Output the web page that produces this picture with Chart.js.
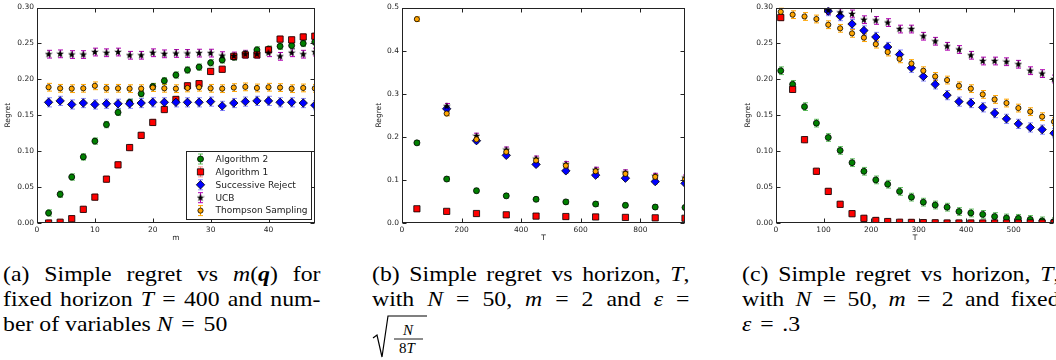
<!DOCTYPE html>
<html lang="en">
<head>
<meta charset="UTF-8">
<title>Simple regret</title>
<script src="https://cdn.jsdelivr.net/npm/chart.js"></script>
<style>
  html, body { margin: 0; padding: 0; background: #fff; width: 1056px; height: 360px; overflow: hidden; position: relative; }
  .plot { position: absolute; top: 0; }
  .cap { position: absolute; top: 261px; width: 294px; font-family: 'Liberation Serif', 'DejaVu Serif', serif; font-size: 22px; line-height: 25px; color: #000; transform: scaleX(1.08); transform-origin: 0 0; }
  .cap div { white-space: nowrap; }
  .cap .j { white-space: normal; text-align: justify; text-align-last: justify; }
  .eq { margin: 0 0.12em; }
  .frac { position: absolute; font-family: 'Liberation Serif', 'DejaVu Serif', serif; font-size: 15px; font-style: italic; line-height: 15px; }
</style>
</head>
<body>
<canvas id="chartA" class="plot" width="320" height="250" style="left:0px"></canvas>
<canvas id="chartB" class="plot" width="320" height="250" style="left:371px"></canvas>
<canvas id="chartC" class="plot" width="320" height="250" style="left:740px"></canvas>

<div class="cap" style="left:3px">
  <div class="j">(a) Simple regret vs <i>m</i>(<b><i>q</i></b>) for</div>
  <div class="j">fixed horizon <i>T</i> = 400 and num-</div>
  <div>ber of variables <i>N</i> <span class="eq">=</span> 50</div>
</div>
<div class="cap" style="left:372px">
  <div class="j">(b) Simple regret vs horizon, <i>T</i>,</div>
  <div class="j">with <i>N</i> = 50, <i>m</i> = 2 and <i>ε</i> =</div>
</div>
<svg style="position:absolute;left:370px;top:312px" width="62" height="48">
  <polyline points="3,26 7,23 12,45 18,4 57,4" fill="none" stroke="#000" stroke-width="1.2"/>
  <line x1="24" y1="27" x2="53" y2="27" stroke="#000" stroke-width="0.9"/>
</svg>
<div class="frac" style="left:403px;top:323px">N</div>
<div class="frac" style="left:399px;top:341px"><span style="font-style:normal">8</span>T</div>
<div class="cap" style="left:742px">
  <div class="j">(c) Simple regret vs horizon, <i>T</i>,</div>
  <div class="j">with <i>N</i> = 50, <i>m</i> = 2 and fixed</div>
  <div><i>ε</i> <span class="eq">=</span> .3</div>
</div>

<script>
// (a) regret vs m, T = 400, N = 50
const mA = [2, 4, 6, 8, 10, 12, 14, 16, 18, 20, 22, 24, 26, 28, 30, 32, 34, 36, 38, 40, 42, 44, 46, 48];
const alg2A = [0.014, 0.040, 0.064, 0.092, 0.114, 0.137, 0.154, 0.168, 0.180, 0.190, 0.198, 0.206, 0.213, 0.217, 0.223, 0.227, 0.231, 0.235, 0.241, 0.242, 0.246, 0.247, 0.250, 0.252];
const alg1A = [0.000, 0.001, 0.006, 0.019, 0.036, 0.061, 0.081, 0.105, 0.122, 0.140, 0.158, 0.172, 0.191, 0.194, 0.211, 0.214, 0.232, 0.234, 0.234, 0.241, 0.256, 0.255, 0.259, 0.260];
const srA = [0.168, 0.170, 0.165, 0.167, 0.165, 0.166, 0.166, 0.166, 0.167, 0.168, 0.168, 0.168, 0.168, 0.168, 0.169, 0.163, 0.167, 0.169, 0.170, 0.170, 0.168, 0.168, 0.167, 0.164];
const ucbA = [0.235, 0.2355, 0.2345, 0.2345, 0.238, 0.237, 0.238, 0.2335, 0.2335, 0.237, 0.2355, 0.236, 0.236, 0.2365, 0.2365, 0.233, 0.2325, 0.235, 0.235, 0.237, 0.232, 0.237, 0.235, 0.238];
const tsA = [0.189, 0.1875, 0.187, 0.1875, 0.191, 0.1875, 0.1875, 0.187, 0.187, 0.1885, 0.1875, 0.187, 0.188, 0.189, 0.1875, 0.187, 0.1885, 0.1895, 0.188, 0.189, 0.1885, 0.187, 0.188, 0.1875];
const errA = [0.003, 0.003, 0.005, 0.004, 0.004];
const xTicksA = [0, 10, 20, 30, 40];
const yTicksA = [0, 0.05, 0.10, 0.15, 0.20, 0.25, 0.30];

// (b) regret vs T, eps = sqrt(N/8T)
const tB = [50, 150, 250, 350, 450, 550, 650, 750, 850, 950];
const alg2B = [0.186, 0.102, 0.075, 0.063, 0.055, 0.049, 0.044, 0.041, 0.037, 0.036];
const alg1B = [0.033, 0.027, 0.022, 0.019, 0.016, 0.015, 0.014, 0.013, 0.012, 0.011];
const srB = [null, 0.265, 0.191, 0.157, 0.136, 0.121, 0.111, 0.104, 0.096, 0.092];
const ucbB = [null, 0.271, 0.202, 0.170, 0.149, 0.136, 0.123, 0.117, 0.109, 0.105];
const tsB = [0.473, 0.254, 0.194, 0.165, 0.145, 0.133, 0.120, 0.114, 0.107, 0.101];
const errB = [0.003, 0.002, 0.003, 0.004, 0.003];
const xTicksB = [0, 200, 400, 600, 800];
const yTicksB = [0, 0.1, 0.2, 0.3, 0.4, 0.5];

// (c) regret vs T, eps = .3
const tC = [10, 35, 60, 85, 110, 135, 160, 185, 210, 235, 260, 285, 310, 335, 360, 385, 410, 435, 460, 485, 510, 535, 560, 585];
const alg2C = [0.212, 0.193, 0.162, 0.139, 0.119, 0.101, 0.084, 0.072, 0.060, 0.054, 0.044, 0.036, 0.029, 0.025, 0.022, 0.016, 0.014, 0.012, 0.009, 0.007, 0.0065, 0.005, 0.003, 0.002];
const alg1C = [0.286, 0.186, 0.116, 0.072, 0.044, 0.026, 0.013, 0.0065, 0.0035, 0.002, 0.001, 0.0008, 0.0005, 0.0003, 0, 0, 0, 0, 0, 0, 0, 0, 0, 0];
const srC = [null, null, null, null, 0.295, 0.288, 0.277, 0.268, 0.259, 0.245, 0.2345, 0.216, 0.204, 0.193, 0.178, 0.169, 0.167, 0.161, 0.153, 0.145, 0.138, 0.133, 0.130, 0.125];
const ucbC = [null, null, null, null, 0.296, 0.293, 0.291, 0.283, 0.282, 0.279, 0.270, 0.270, 0.260, 0.253, 0.246, 0.2415, 0.2335, 0.2255, 0.2255, 0.2245, 0.221, 0.212, 0.208, 0.2005];
const tsC = [0.294, 0.290, 0.2875, 0.284, 0.276, 0.271, 0.264, 0.258, 0.249, 0.238, 0.2285, 0.222, 0.212, 0.204, 0.199, 0.191, 0.187, 0.179, 0.172, 0.167, 0.160, 0.155, 0.148, 0.141];
const errC = [0.004, 0.003, 0.005, 0.004, 0.004];
const xTicksC = [0, 100, 200, 300, 400, 500];
const yTicksC = [0, 0.05, 0.10, 0.15, 0.20, 0.25, 0.30];

const seriesNames = ['Algorithm 2', 'Algorithm 1', 'Successive Reject', 'UCB', 'Thompson Sampling'];

function starImage(size, color) {
  const c = document.createElement('canvas');
  c.width = c.height = size;
  const g = c.getContext('2d');
  g.beginPath();
  for (let i = 0; i < 10; i++) {
    const r = i % 2 ? size * 0.21 : size * 0.5;
    const a = -Math.PI / 2 + i * Math.PI / 5;
    g.lineTo(size / 2 + r * Math.cos(a), size / 2 + r * Math.sin(a));
  }
  g.closePath();
  g.fillStyle = color;
  g.fill();
  return c;
}
const star = starImage(8, '#000');

const looks = [
  { style: 'circle', r: 3.0, fill: '#008000', bar: 'rgba(0,150,0,0.6)' },
  { style: 'rect', r: 4.4, fill: '#ff0000', bar: 'rgba(255,60,60,0.55)' },
  { style: 'rectRot', r: 4.2, fill: '#0000ff', bar: 'rgba(60,60,255,0.6)' },
  { style: star, r: 4, fill: '#000', bar: '#b000b0' },
  { style: 'circle', r: 2.6, fill: '#ffa500', bar: '#ffa500' }
];

function makeSets(xs, ysList, errs) {
  return ysList.map((ys, i) => ({
    label: seriesNames[i],
    data: xs.map((x, j) => ({ x: x, y: ys[j] })),
    err: errs[i],
    errColor: looks[i].bar,
    pointStyle: looks[i].style,
    pointRadius: looks[i].r,
    backgroundColor: looks[i].fill,
    borderColor: '#000',
    borderWidth: 0.8,
    showLine: false,
    order: 5 - i,
    clip: 0
  }));
}

const errorBars = {
  id: 'errorBars',
  beforeDatasetsDraw(chart) {
    const { ctx, chartArea: a, scales: { x, y } } = chart;
    ctx.save();
    ctx.beginPath();
    ctx.rect(a.left, a.top, a.right - a.left, a.bottom - a.top);
    ctx.clip();
    chart.data.datasets.slice().reverse().forEach(ds => {
      ctx.strokeStyle = ds.errColor;
      ctx.lineWidth = 1;
      ds.data.forEach(p => {
        if (p.y == null) return;
        const px = Math.round(x.getPixelForValue(p.x)) + 0.5;
        const y1 = y.getPixelForValue(p.y - ds.err) + 1;
        const y2 = y.getPixelForValue(p.y + ds.err) - 1;
        ctx.beginPath();
        ctx.moveTo(px, y1); ctx.lineTo(px, y2);
        ctx.moveTo(px - 2.5, y1); ctx.lineTo(px + 2.5, y1);
        ctx.moveTo(px - 2.5, y2); ctx.lineTo(px + 2.5, y2);
        ctx.stroke();
      });
    });
    ctx.restore();
  }
};

// box round the plot with inward ticks on every side
const frame = {
  id: 'frame',
  afterDatasetsDraw(chart) {
    const { ctx, chartArea: a, scales: { x, y } } = chart;
    const L = Math.round(a.left) + 0.5, R = Math.round(a.right) - 0.5;
    const T = Math.round(a.top) + 0.5, B = Math.round(a.bottom) - 0.5;
    ctx.save();
    ctx.strokeStyle = '#222';
    ctx.lineWidth = 1;
    ctx.strokeRect(L, T, R - L, B - T);
    ctx.beginPath();
    x.ticks.forEach(t => {
      const px = Math.round(x.getPixelForValue(t.value)) + 0.5;
      ctx.moveTo(px, B); ctx.lineTo(px, B - 4);
      ctx.moveTo(px, T); ctx.lineTo(px, T + 4);
    });
    y.ticks.forEach(t => {
      const py = Math.round(y.getPixelForValue(t.value)) + 0.5;
      ctx.moveTo(L, py); ctx.lineTo(L + 4, py);
      ctx.moveTo(R, py); ctx.lineTo(R - 4, py);
    });
    ctx.stroke();
    ctx.restore();
  }
};

function drawMarker(ctx, i, x, y) {
  const s = looks[i];
  ctx.fillStyle = s.fill;
  ctx.strokeStyle = '#000';
  ctx.lineWidth = 0.8;
  ctx.beginPath();
  if (s.style === 'circle') {
    ctx.arc(x, y, s.r, 0, Math.PI * 2);
  } else if (s.style === 'rect') {
    const h = s.r * Math.SQRT1_2;
    ctx.rect(x - h, y - h, h * 2, h * 2);
  } else if (s.style === 'rectRot') {
    ctx.moveTo(x, y - s.r); ctx.lineTo(x + s.r, y); ctx.lineTo(x, y + s.r); ctx.lineTo(x - s.r, y); ctx.closePath();
  } else {
    ctx.drawImage(s.style, x - 4, y - 4);
    return;
  }
  ctx.fill();
  ctx.stroke();
}

const legendBox = {
  id: 'legendBox',
  afterDraw(chart) {
    const { ctx, chartArea: a } = chart;
    const w = 125, h = 68;
    const left = Math.round(a.right) - 4 - w + 0.5, top = Math.round(a.bottom) - 4 - h + 0.5;
    ctx.save();
    ctx.fillStyle = '#fff';
    ctx.strokeStyle = '#222';
    ctx.lineWidth = 1;
    ctx.fillRect(left, top, w, h);
    ctx.strokeRect(left, top, w, h);
    ctx.font = '9px "DejaVu Sans"';
    ctx.textBaseline = 'middle';
    seriesNames.forEach((name, i) => {
      const cy = top + 7.5 + i * 12.9, cx = Math.round(left + 13) + 0.5;
      ctx.strokeStyle = looks[i].bar;
      ctx.lineWidth = 1;
      ctx.beginPath();
      ctx.moveTo(cx, cy - 5); ctx.lineTo(cx, cy + 5);
      ctx.moveTo(cx - 2.5, cy - 5); ctx.lineTo(cx + 2.5, cy - 5);
      ctx.moveTo(cx - 2.5, cy + 5); ctx.lineTo(cx + 2.5, cy + 5);
      ctx.stroke();
      drawMarker(ctx, i, cx, cy);
      ctx.fillStyle = '#222';
      ctx.fillText(name, left + 29, cy + 0.5);
    });
    ctx.restore();
  }
};

const tickFont = { family: 'DejaVu Sans', size: 7.5 };

function makeChart(id, sets, opt) {
  return new Chart(document.getElementById(id), {
    type: 'scatter',
    data: { datasets: sets },
    plugins: opt.legend ? [errorBars, frame, legendBox] : [errorBars, frame],
    options: {
      responsive: false,
      animation: false,
      events: [],
      layout: { padding: { top: opt.top, right: opt.right, left: 0, bottom: 0 } },
      plugins: { legend: { display: false }, tooltip: { enabled: false } },
      scales: {
        x: {
          type: 'linear', min: 0, max: opt.xMax,
          grid: { display: false, drawTicks: false }, border: { display: false },
          afterBuildTicks: s => { s.ticks = opt.xTicks.map(v => ({ value: v })); },
          afterFit: s => { s.height = 27; },
          ticks: { color: '#222', font: tickFont, padding: 3, maxRotation: 0, autoSkip: false, callback: v => String(v) },
          title: { display: true, text: opt.xTitle, color: '#222', font: tickFont, padding: { top: 4, bottom: 7 } }
        },
        y: {
          type: 'linear', min: 0, max: opt.yMax,
          grid: { display: false, drawTicks: false }, border: { display: false },
          afterBuildTicks: s => { s.ticks = opt.yTicks.map(v => ({ value: v })); },
          afterFit: s => { s.width = opt.yWidth; },
          ticks: { color: '#222', font: tickFont, padding: 3, autoSkip: false, callback: v => v.toFixed(opt.dec) },
          title: { display: true, text: 'Regret', color: '#222', font: tickFont, padding: { top: 4, bottom: 4 } }
        }
      }
    }
  });
}

makeChart('chartA', makeSets(mA, [alg2A, alg1A, srA, ucbA, tsA], errA),
  { xMax: 48, yMax: 0.30, xTicks: xTicksA, yTicks: yTicksA, dec: 2, yWidth: 37, top: 7, right: 5, xTitle: 'm', legend: true });
makeChart('chartB', makeSets(tB, [alg2B, alg1B, srB, ucbB, tsB], errB),
  { xMax: 950, yMax: 0.5, xTicks: xTicksB, yTicks: yTicksB, dec: 1, yWidth: 31, top: 4, right: 6, xTitle: 'T' });
makeChart('chartC', makeSets(tC, [alg2C, alg1C, srC, ucbC, tsC], errC),
  { xMax: 585, yMax: 0.30, xTicks: xTicksC, yTicks: yTicksC, dec: 2, yWidth: 36, top: 7, right: 6, xTitle: 'T' });
</script>
</body>
</html>
